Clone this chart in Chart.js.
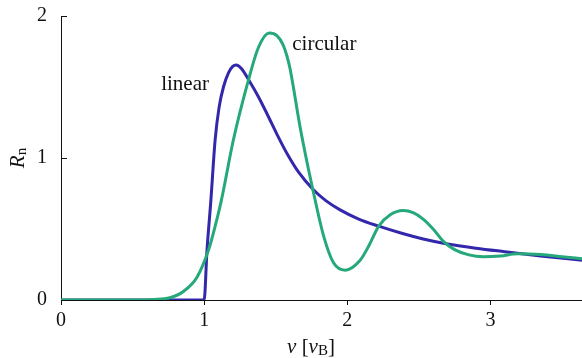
<!DOCTYPE html>
<html>
<head>
<meta charset="utf-8">
<script src="https://cdn.jsdelivr.net/npm/chart.js@4.4.0/dist/chart.umd.min.js"></script>
<style>
  html, body { margin: 0; padding: 0; background: #fff; }
  #wrap { width: 582px; height: 358px; }
</style>
</head>
<body>
<div id="wrap"><canvas id="rnChart" width="582" height="358"></canvas></div>
<script>
// velocity in units of v_B, reflectance R_n
var linearV = [0, 1.0, 1.02, 1.047, 1.077, 1.105, 1.135, 1.17, 1.2, 1.224, 1.26, 1.32, 1.38, 1.44, 1.51, 1.58, 1.66, 1.76, 1.85, 1.95, 2.08, 2.22, 2.38, 2.53, 2.7, 2.9, 3.1, 3.35, 3.64];
var linearR = [0, 0, 0.35, 0.70, 1.13, 1.36, 1.50, 1.60, 1.645, 1.655, 1.63, 1.535, 1.43, 1.31, 1.165, 1.03, 0.90, 0.78, 0.70, 0.635, 0.57, 0.52, 0.47, 0.43, 0.395, 0.365, 0.34, 0.31, 0.28];

var circularV = [0, 0.5, 0.65, 0.76, 0.855, 0.95, 1.03, 1.077, 1.12, 1.205, 1.31, 1.38, 1.455, 1.51, 1.55, 1.578, 1.60, 1.67, 1.73, 1.76, 1.835, 1.905, 1.986, 2.09, 2.15, 2.22, 2.30, 2.39, 2.46, 2.53, 2.60, 2.67, 2.75, 2.85, 2.95, 3.07, 3.19, 3.35, 3.5, 3.64];
var circularR = [0, 0, 0.004, 0.016, 0.06, 0.16, 0.35, 0.52, 0.70, 1.13, 1.55, 1.78, 1.88, 1.86, 1.80, 1.72, 1.63, 1.22, 0.915, 0.775, 0.45, 0.26, 0.21, 0.28, 0.38, 0.52, 0.60, 0.63, 0.615, 0.57, 0.50, 0.415, 0.355, 0.318, 0.305, 0.31, 0.325, 0.32, 0.305, 0.29];

var xTicks = [0, 1, 2, 3];
var yTicks = [0, 1, 2];

var serif = "'Liberation Serif', 'DejaVu Serif', serif";

function pts(xs, ys) {
  var out = [];
  for (var i = 0; i < xs.length; i++) out.push({ x: xs[i], y: ys[i] });
  return out;
}

// curve labels, title texts, inward y ticks
var decorPlugin = {
  id: 'decor',
  afterDraw: function (chart) {
    var ctx = chart.ctx;
    var xs = chart.scales.x, ys = chart.scales.y;
    var area = chart.chartArea;
    ctx.save();
    ctx.fillStyle = '#111';
    ctx.strokeStyle = '#111';
    ctx.lineWidth = 1;

    // y tick marks point into the plot
    yTicks.forEach(function (t) {
      var py = Math.round(ys.getPixelForValue(t)) + 0.5;
      ctx.beginPath();
      ctx.moveTo(area.left, py);
      ctx.lineTo(area.left + 6, py);
      ctx.stroke();
    });

    ctx.textBaseline = 'middle';
    ctx.textAlign = 'center';
    ctx.font = '21px ' + serif;
    ctx.fillText('linear', xs.getPixelForValue(0.867), ys.getPixelForValue(1.52));
    ctx.fillText('circular', xs.getPixelForValue(1.84), ys.getPixelForValue(1.80));

    // x title: v [v_B]
    var italic = 'italic 21px ' + serif, roman = '21px ' + serif, small = '15px ' + serif;
    var parts = [
      { t: 'v', f: italic, dy: 0 },
      { t: ' [', f: roman, dy: 0 },
      { t: 'v', f: italic, dy: 0 },
      { t: 'B', f: small, dy: 4 },
      { t: ']', f: roman, dy: 0 }
    ];
    var total = 0;
    parts.forEach(function (p) { ctx.font = p.f; p.w = ctx.measureText(p.t).width; total += p.w; });
    var cx = 311 - total / 2, cy = 347;
    ctx.textAlign = 'left';
    parts.forEach(function (p) {
      ctx.font = p.f;
      ctx.fillText(p.t, cx, cy + p.dy);
      cx += p.w;
    });

    // y title: R_n, rotated
    ctx.translate(18, (area.top + area.bottom) / 2);
    ctx.rotate(-Math.PI / 2);
    ctx.font = italic;
    var wR = ctx.measureText('R').width;
    ctx.font = small;
    var wn = ctx.measureText('n').width;
    var sx = -(wR + wn) / 2;
    ctx.font = italic;
    ctx.fillText('R', sx, 0);
    ctx.font = small;
    ctx.fillText('n', sx + wR, 4);
    ctx.restore();
  }
};

var ctx1 = document.getElementById('rnChart');
new Chart(ctx1, {
  type: 'line',
  data: {
    datasets: [{
      label: 'circular',
      data: pts(circularV, circularR),
      borderColor: '#25a97a',
      borderWidth: 3,
      pointRadius: 0,
      cubicInterpolationMode: 'monotone',
      fill: false
    },
    {
      label: 'linear',
      data: pts(linearV, linearR),
      borderColor: '#3328ab',
      borderWidth: 3,
      pointRadius: 0,
      cubicInterpolationMode: 'monotone',
      fill: false
    }]
  },
  options: {
    responsive: false,
    animation: false,
    devicePixelRatio: 1,
    layout: { padding: { top: 16, right: 0, left: 0, bottom: 0 } },
    plugins: {
      legend: { display: false },
      tooltip: { enabled: false }
    },
    scales: {
      x: {
        type: 'linear',
        min: 0,
        max: 3.64,
        afterFit: function (scale) {
          scale.height = 58;
          scale.paddingLeft = 0;
          scale.paddingRight = 0;
        },
        afterBuildTicks: function (scale) {
          scale.ticks = xTicks.map(function (v) { return { value: v }; });
        },
        border: { display: true, color: '#111', width: 1 },
        grid: { drawOnChartArea: false, drawTicks: true, tickLength: 5, color: '#111' },
        ticks: {
          color: '#111',
          padding: 4,
          font: { family: serif, size: 20 },
          callback: function (v) { return String(v); }
        }
      },
      y: {
        min: 0,
        max: 2,
        afterFit: function (scale) {
          scale.width = 61;
          scale.paddingTop = 0;
          scale.paddingBottom = 0;
        },
        afterBuildTicks: function (scale) {
          scale.ticks = yTicks.map(function (v) { return { value: v }; });
        },
        border: { display: true, color: '#111', width: 1 },
        grid: { display: true, drawOnChartArea: false, drawTicks: false, color: '#111' },
        ticks: {
          color: '#111',
          padding: 14,
          font: { family: serif, size: 20 },
          callback: function (v) { return String(v); }
        }
      }
    }
  },
  plugins: [decorPlugin]
});
</script>
</body>
</html>
